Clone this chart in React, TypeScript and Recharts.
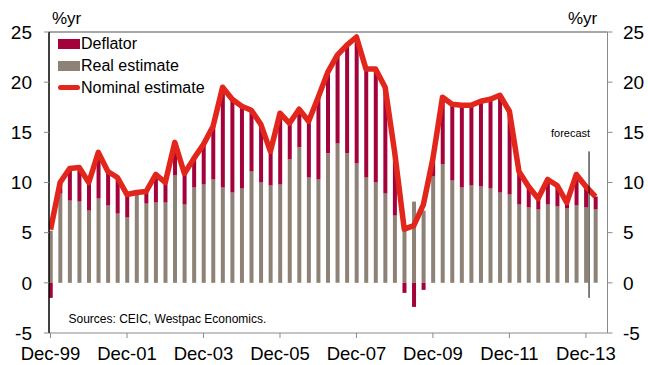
import { ComposedChart, Bar, Line, XAxis, YAxis, ReferenceLine } from 'recharts';

// quarterly, Dec-99 .. Mar-14
const MONTHS = ['Dec', 'Mar', 'Jun', 'Sep'];
const quarters: string[] = [];
for (let i = 0; i < 58; i++) {
  const yr = (99 + Math.floor((i + 3) / 4)) % 100;
  quarters.push(`${MONTHS[i % 4]}-${String(yr).padStart(2, '0')}`);
}

const realEstimate = [
  5.2, 8.9, 8.2, 8.1, 7.2, 8.4, 7.7, 6.9, 6.5, 8.7,
  7.9, 8.0, 8.0, 10.7, 7.8, 9.5, 9.8, 10.3, 9.5, 9.0,
  9.4, 11.1, 10.0, 9.7, 9.8, 12.3, 13.5, 10.5, 10.3, 12.9,
  13.9, 12.9, 11.9, 10.5, 10.0, 8.9, 6.7, 5.3, 8.1, 7.2,
  10.6, 11.8, 10.2, 9.5, 9.7, 9.6, 9.4, 9.0, 8.8, 7.8,
  7.5, 7.3, 7.8, 7.6, 7.4, 7.7, 7.5, 7.3,
];

const deflator = [
  -1.5, 1.1, 3.2, 3.4, 2.8, 4.6, 3.4, 3.6, 2.3, 0.3,
  1.2, 2.8, 2.0, 3.3, 3.1, 2.9, 4.0, 5.3, 10.0, 9.3,
  8.2, 6.1, 5.8, 3.4, 7.1, 3.6, 3.8, 5.6, 8.2, 8.1,
  8.8, 10.8, 12.6, 10.8, 11.3, 10.6, 6.3, -1.0, -2.4, -0.7,
  1.8, 6.7, 7.6, 8.2, 8.0, 8.5, 8.9, 9.7, 8.3, 3.3,
  2.1, 1.1, 2.5, 2.1, 0.6, 3.1, 2.1, 1.3,
];

const nominalEstimate = [
  5.3, 10.0, 11.4, 11.5, 10.0, 13.0, 11.1, 10.5, 8.8, 9.0,
  9.1, 10.8, 10.0, 14.0, 10.9, 12.4, 13.8, 15.6, 19.5, 18.3,
  17.6, 17.2, 15.8, 13.1, 16.9, 15.9, 17.3, 16.1, 18.5, 21.0,
  22.7, 23.7, 24.5, 21.3, 21.3, 19.5, 13.0, 5.35, 5.7, 7.8,
  12.4, 18.5, 17.8, 17.7, 17.7, 18.1, 18.3, 18.7, 17.1, 11.1,
  9.6, 8.4, 10.3, 9.7, 8.0, 10.8, 9.6, 8.6,
];

const xTicks = [0, 8, 16, 24, 32, 40, 48, 56];
const yTicks = [-5, 0, 5, 10, 15, 20, 25];

const data = quarters.map((q, i) => ({
  i,
  q,
  real: realEstimate[i],
  deflator: deflator[i],
  nominal: nominalEstimate[i],
}));

const RED = '#A3023A';
const GREY = '#8E8176';
const LINE = '#E2261B';
const FONT = '"Liberation Sans", Arial, sans-serif';

const txt = (left: number, top: number, size: number) => ({
  position: 'absolute' as const,
  left,
  top,
  fontSize: size,
  lineHeight: `${size}px`,
  whiteSpace: 'nowrap' as const,
  color: '#000',
});

export default function App() {
  return (
    <div style={{ position: 'absolute', left: 0, top: 0, width: 648, height: 365, fontFamily: FONT, background: '#fff' }}>
      <ComposedChart
        width={648}
        height={365}
        data={data}
        stackOffset="sign"
        margin={{ top: 32, right: 0, bottom: 0, left: 0 }}
      >
        <XAxis
          dataKey="i"
          type="number"
          domain={[-0.16, 58.26]}
          allowDataOverflow
          ticks={xTicks}
          tickFormatter={(v) => quarters[v]}
          height={32}
          tickSize={5}
          tickMargin={9}
          stroke="#8a8a8a"
          tick={{ fontSize: 18.5, fill: '#000', fontFamily: FONT }}
          interval={0}
        />
        <YAxis
          yAxisId="l"
          domain={[-5, 25]}
          ticks={yTicks}
          width={49}
          tickSize={5}
          tickMargin={12}
          axisLine={{ stroke: '#000', strokeWidth: 1.5 }}
          tickLine={{ stroke: '#8a8a8a' }}
          tick={{ fontSize: 19, fill: '#000', fontFamily: FONT }}
          interval={0}
        />
        <YAxis
          yAxisId="r"
          orientation="right"
          domain={[-5, 25]}
          ticks={yTicks}
          width={40.5}
          tickSize={5}
          tickMargin={10.5}
          stroke="#8a8a8a"
          tick={{ fontSize: 19, fill: '#000', fontFamily: FONT }}
          interval={0}
        />
        <ReferenceLine yAxisId="l" y={25} stroke="#8a8a8a" strokeWidth={1.5} />
        <Bar yAxisId="l" dataKey="real" stackId="a" fill={GREY} barSize={4} isAnimationActive={false} />
        <Bar yAxisId="l" dataKey="deflator" stackId="a" fill={RED} barSize={4} isAnimationActive={false} />
        {/* invisible copy so the right-hand axis gets its ticks */}
        <Line
          yAxisId="r"
          dataKey="nominal"
          stroke="none"
          dot={false}
          activeDot={false}
          legendType="none"
          isAnimationActive={false}
        />
        <Line
          yAxisId="l"
          type="linear"
          dataKey="nominal"
          stroke={LINE}
          strokeWidth={5.5}
          strokeLinejoin="round"
          dot={false}
          isAnimationActive={false}
        />
        <ReferenceLine
          yAxisId="l"
          segment={[{ x: 56.33, y: 13.1 }, { x: 56.33, y: -1.5 }]}
          stroke="#000"
          strokeWidth={1}
        />
      </ComposedChart>

      <div style={txt(52, 10, 17)}>%yr</div>
      <div style={txt(568, 10, 17)}>%yr</div>
      <div style={txt(551, 128, 11)}>forecast</div>
      <div style={txt(68.5, 313, 12)}>Sources: CEIC, Westpac Economics.</div>

      <div style={{ position: 'absolute', left: 58, top: 39, width: 22, height: 10, background: RED }} />
      <div style={txt(81, 36.2, 16)}>Deflator</div>
      <div style={{ position: 'absolute', left: 58, top: 60.5, width: 22, height: 10, background: GREY }} />
      <div style={txt(81, 58, 16)}>Real estimate</div>
      <div style={{ position: 'absolute', left: 58, top: 85, width: 22, height: 5, borderRadius: 3, background: LINE }} />
      <div style={txt(81, 79.5, 16)}>Nominal estimate</div>
    </div>
  );
}
